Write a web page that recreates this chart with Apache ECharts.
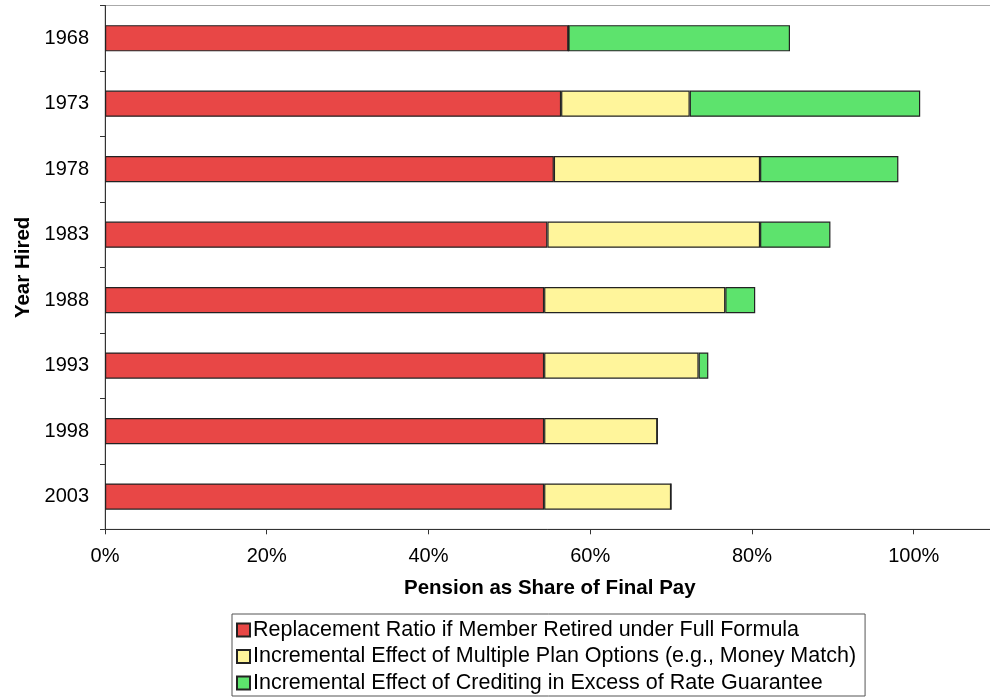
<!DOCTYPE html>
<html><head><meta charset="utf-8">
<script src="https://cdn.jsdelivr.net/npm/echarts@6/dist/echarts.min.js"></script>
<style>html,body{margin:0;padding:0;background:#fff}#c{width:990px;height:698px}</style>
</head><body><div id="c"></div>
<script>
const years = ["1968","1973","1978","1983","1988","1993","1998","2003"];
const replacement = [57.3, 56.4, 55.5, 54.7, 54.3, 54.3, 54.3, 54.3];
const multiplePlan = [0, 15.9, 25.5, 26.3, 22.4, 19.1, 14.0, 15.7];
const crediting = [27.4, 28.5, 17.1, 8.7, 3.7, 1.2, 0, 0];
const seriesNames = [
  "Replacement Ratio if Member Retired under Full Formula",
  "Incremental Effect of Multiple Plan Options (e.g., Money Match)",
  "Incremental Effect of Crediting in Excess of Rate Guarantee"
];
const colors = ["#E84746", "#FFF59B", "#5DE36D"];
const xTicks = [0, 20, 40, 60, 80, 100];

const font = "'Liberation Sans', Arial, Helvetica, sans-serif";
const chart = echarts.init(document.getElementById('c'), null, {renderer: 'canvas'});
const datas = [replacement, multiplePlan, crediting];
chart.setOption({
  animation: false,
  textStyle: {fontFamily: font},
  grid: {left: 105, width: 889.6, top: 5.5, bottom: 168.7, outerBoundsMode: 'none', containLabel: false,
    show: true, borderColor: '#aaaaaa', borderWidth: 1, backgroundColor: 'transparent'},
  xAxis: {
    type: 'value', min: 0, max: 110, interval: 20,
    name: 'Pension as Share of Final Pay', nameLocation: 'middle', nameGap: 49,
    nameTextStyle: {fontSize: 20.5, fontWeight: 'bold', color: '#000', fontFamily: font},
    axisLine: {show: true, lineStyle: {color: '#333', width: 1}},
    axisTick: {show: true, length: 5, lineStyle: {color: '#333'}},
    axisLabel: {fontSize: 20, color: '#000', margin: 17, fontFamily: font,
      formatter: v => xTicks.includes(v) ? v + '%' : ''},
    splitLine: {show: false}
  },
  yAxis: {
    type: 'category', data: years, inverse: true,
    name: 'Year Hired', nameLocation: 'middle', nameGap: 70.5, nameRotate: 90,
    nameTextStyle: {fontSize: 20.5, fontWeight: 'bold', color: '#000', fontFamily: font},
    axisLine: {show: true, lineStyle: {color: '#333', width: 1}},
    axisTick: {show: true, length: 5, lineStyle: {color: '#333'}},
    axisLabel: {fontSize: 20, color: '#000', margin: 16, fontFamily: font}
  },
  legend: {
    orient: 'vertical', left: 232, top: 614,
    itemWidth: 13, itemHeight: 13, itemGap: 4.5, icon: 'rect',
    padding: [5, 9, 2, 4],
    borderColor: '#555', borderWidth: 1,
    textStyle: {fontSize: 21.5, lineHeight: 22, color: '#000', fontFamily: font, padding: [0, 0, 0, -2]},
    data: seriesNames
  },
  series: seriesNames.map((n, i) => ({
    name: n, type: 'bar', stack: 'total', data: datas[i], barWidth: '40%',
    itemStyle: {color: colors[i], borderColor: '#222', borderWidth: 1.2}
  }))
});
</script></body></html>
